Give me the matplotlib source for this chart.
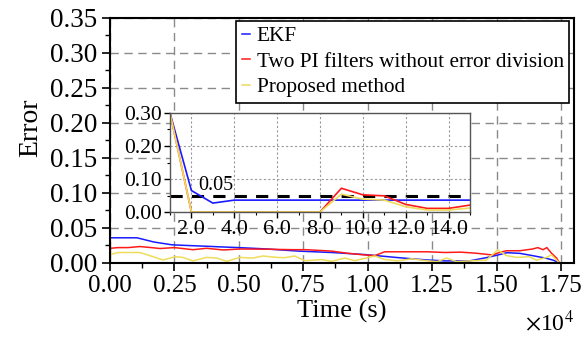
import matplotlib
matplotlib.use("Agg")
import matplotlib.pyplot as plt
import numpy as np
from matplotlib.ticker import FuncFormatter, MultipleLocator

plt.rcParams["font.family"] = ["Liberation Serif", "DejaVu Serif"]
plt.rcParams["mathtext.fontset"] = "stix"

# first seconds (shown in the inset)
t_inset = [1, 2, 3, 4, 5, 6, 7, 8, 9, 10, 11, 12, 13, 14, 15]
ekf_inset = [0.30, 0.065, 0.027, 0.036, 0.036, 0.036, 0.036, 0.036,
             0.036, 0.036, 0.036, 0.036, 0.036, 0.036, 0.036]
pi_inset = [0.30, 0.0, 0.0, 0.0, 0.0, 0.0, 0.0, 0.0,
            0.072, 0.052, 0.049, 0.023, 0.011, 0.011, 0.021]
prop_inset = [0.30, 0.0, 0.0, 0.0, 0.0, 0.0, 0.0, 0.0,
              0.054, 0.039, 0.036, 0.016, 0.006, 0.006, 0.012]

# rest of the run
ekf_t = [300, 1050, 1700, 2400, 3000, 3700, 4300, 5000, 6100, 7300, 8600, 9900,
         11200, 12300, 13000, 13950, 14600, 15000, 15400, 15900, 16400, 16900, 17200, 17450]
ekf_err = [0.036, 0.036, 0.030, 0.026, 0.025, 0.024, 0.023, 0.022, 0.020, 0.017, 0.015, 0.012,
           0.0076, 0.0043, 0.003, 0.003, 0.0076, 0.011, 0.0147, 0.0138, 0.0105, 0.007, 0.004, 0.0]

pi_t = [300, 700, 1160, 1600, 1940, 2500, 3220, 3750, 4400, 5040, 6080, 7100, 7600, 8600,
        9200, 9880, 10270, 10660, 11430, 12330, 13000, 13600, 14200, 14850, 15100, 15390,
        15900, 16400, 16600, 16800, 16950, 17130, 17330, 17440]
pi_err = [0.022, 0.022, 0.0235, 0.022, 0.0207, 0.022, 0.019, 0.021, 0.0186, 0.020, 0.0197, 0.019,
          0.019, 0.017, 0.014, 0.0115, 0.0105, 0.016, 0.016, 0.016, 0.015, 0.0155, 0.014, 0.0114,
          0.015, 0.0175, 0.0175, 0.020, 0.022, 0.019, 0.022, 0.014, 0.007, 0.0]

prop_t = [300, 1160, 1670, 2060, 2520, 2830, 3220, 3750, 4150, 4530, 5040, 5540, 5930, 6470,
          6780, 7170, 7560, 8220, 8600, 9110, 9500, 10270, 10660, 11160, 11700, 12330, 12700,
          13060, 13450, 13950, 14600, 15040, 15390, 15780, 16280, 16550, 16940, 17130, 17440]
prop_err = [0.015, 0.015, 0.009, 0.0043, 0.009, 0.008, 0.003, 0.008, 0.007, 0.0024, 0.008, 0.007,
            0.010, 0.008, 0.0076, 0.010, 0.0033, 0.0048, 0.0024, 0.007, 0.0033, 0.010, 0.005,
            0.003, 0.006, 0.003, 0.002, 0.007, 0.002, 0.003, 0.004, 0.0186, 0.0105, 0.008,
            0.009, 0.004, 0.008, 0.0116, 0.0]

labels = ["EKF", "Two PI filters without error division", "Proposed method"]
colors = ["#1a1aff", "#ff1a1a", "#eedc5a"]

fig = plt.figure(figsize=(5.85, 3.37), dpi=100)
ax = fig.add_axes([0.188, 0.2196, 0.793, 0.727])

series = [(ekf_inset, ekf_t, ekf_err), (pi_inset, pi_t, pi_err), (prop_inset, prop_t, prop_err)]
for (first, t_rest, e_rest), label, color in zip(series, labels, colors):
    ax.plot(t_inset + t_rest, first + e_rest, color=color, lw=1.1, label=label)

ax.set_xlim(0, 18000)
ax.set_ylim(0, 0.35)
ax.xaxis.set_major_locator(MultipleLocator(2500))
ax.xaxis.set_minor_locator(MultipleLocator(1250))
ax.yaxis.set_major_locator(MultipleLocator(0.05))
ax.yaxis.set_minor_locator(MultipleLocator(0.025))
ax.xaxis.set_major_formatter(FuncFormatter(lambda v, p: f"{v / 1e4:.2f}"))
ax.yaxis.set_major_formatter(FuncFormatter(lambda v, p: f"{v:.2f}"))
ax.tick_params(which="major", direction="out", length=6, width=1.2, pad=3)
ax.tick_params(which="minor", direction="out", length=3.5, width=1.0)
ax.tick_params(axis="x", labelsize=18)
ax.tick_params(axis="y", labelsize=19.5)
ax.grid(which="major", ls=(0, (6, 4)), color="#8a8a8a", lw=1.0)
for s in ax.spines.values():
    s.set_linewidth(1.5)

ax.set_xlabel("Time (s)", fontsize=19, labelpad=2)
ax.set_ylabel("Error", fontsize=20)
ax.yaxis.set_label_coords(-0.145, 0.55)
ax.text(1.0, -0.19, r"$\times$10$^{4}$", transform=ax.transAxes, ha="right", va="top", fontsize=17)

leg = ax.legend(loc="upper right", bbox_to_anchor=(569 / 585, 1 - 21 / 337),
                bbox_transform=fig.transFigure, borderaxespad=0, fontsize=15.3,
                handlelength=0.4, handletextpad=0.3, labelspacing=0.27, borderpad=0.25,
                fancybox=False, framealpha=1, edgecolor="black")
leg.get_frame().set_linewidth(1.2)
leg.set_zorder(5)

# zoomed view of the start
ins = fig.add_axes([0.2906, 0.3709, 0.5128, 0.2938])
ins.set_facecolor("white")
ins.axhline(0.05, color="black", ls=(0, (4, 3)), lw=2.2, zorder=1)
for first, label, color in zip([ekf_inset, pi_inset, prop_inset], labels, colors):
    ins.plot(t_inset, first, color=color, lw=1.2, zorder=2)
ins.text(2.3, 0.066, "0.05", fontsize=14.5)
ins.set_xlim(1, 15)
ins.set_ylim(0, 0.30)
ins.xaxis.set_major_locator(MultipleLocator(2))
ins.xaxis.set_minor_locator(MultipleLocator(1))
ins.yaxis.set_major_locator(MultipleLocator(0.1))
ins.yaxis.set_minor_locator(MultipleLocator(0.05))
ins.xaxis.set_major_formatter(FuncFormatter(lambda v, p: f"{v:.1f}"))
ins.yaxis.set_major_formatter(FuncFormatter(lambda v, p: f"{v:.2f}"))
ins.tick_params(which="major", direction="out", length=4, width=1.0, pad=2)
ins.tick_params(which="minor", direction="out", length=2.5, width=0.8)
ins.tick_params(axis="x", labelsize=16)
ins.tick_params(axis="y", labelsize=15.5)
ins.grid(which="major", ls=(0, (2, 2)), color="#999999", lw=0.8)
for s in ins.spines.values():
    s.set_linewidth(1.0)
    s.set_color("#555555")

fig.savefig("out.png", dpi=100)
